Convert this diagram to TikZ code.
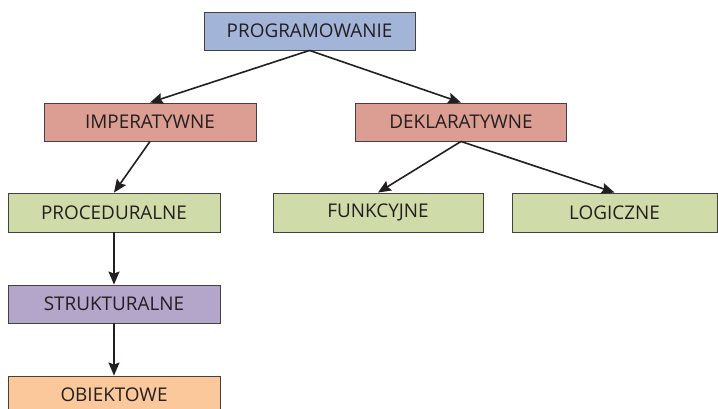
\documentclass[tikz,border=0pt]{standalone}
\usepackage{fontspec}
\setmainfont{Open Sans}
\usetikzlibrary{arrows.meta}
\definecolor{cblue}{HTML}{A3B4D9}
\definecolor{cred}{HTML}{DC9E93}
\definecolor{cgreen}{HTML}{CFDCA9}
\definecolor{cpurple}{HTML}{B4A5CA}
\definecolor{corange}{HTML}{FAC89B}
\definecolor{ctext}{HTML}{231F20}
\begin{document}
\begin{tikzpicture}[x=1pt,y=1pt,
  box/.style={draw=ctext!85,line width=0.9pt,minimum height=38pt,inner sep=0pt,
    text=ctext,font=\fontsize{18.9}{22}\selectfont,anchor=center},
  conn/.style={draw=ctext,line width=1.6pt,-{Stealth[length=13pt,width=11pt,inset=2pt]}}]
\useasboundingbox (0,0) rectangle (718,409);
\clip (0,0) rectangle (718,409);
\node[box,fill=cblue,minimum width=211pt] (prog) at (309.5,378) {PROGRAMOWANIE};
\node[box,fill=cred,minimum width=212pt] (imp) at (150,287) {IMPERATYWNE};
\node[box,fill=cred,minimum width=211pt] (dek) at (461,287) {DEKLARATYWNE};
\node[box,fill=cgreen,minimum width=212pt,minimum height=39pt] (proc) at (114,196.5) {PROCEDURALNE};
\node[box,fill=cgreen,minimum width=210pt,minimum height=39pt] (fun) at (378,196.5) {FUNKCYJNE};
\node[box,fill=cgreen,minimum width=205pt,minimum height=39pt] (log) at (614.5,196.5) {LOGICZNE};
\node[box,fill=cpurple,minimum width=212pt] (str) at (114,105) {STRUKTURALNE};
\node[box,fill=corange,minimum width=212pt] (obj) at (114,14) {OBIEKTOWE};
\draw[conn] (prog.south) -- (imp.north);
\draw[conn] (prog.south) -- (dek.north);
\draw[conn] (imp.south) -- (proc.north);
\draw[conn] (dek.south) -- (fun.north);
\draw[conn] (dek.south) -- (log.north);
\draw[conn] (proc.south) -- (str.north);
\draw[conn] (str.south) -- (obj.north);
\end{tikzpicture}
\end{document}
